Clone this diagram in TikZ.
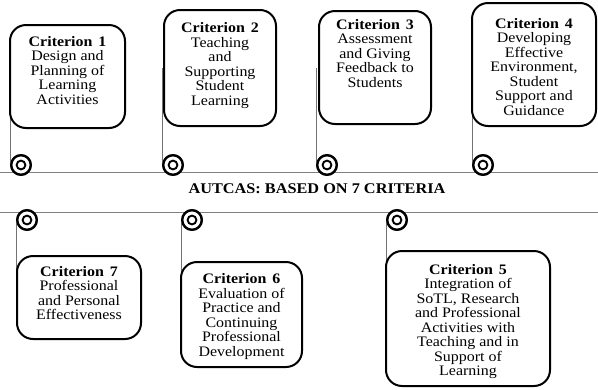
\documentclass[tikz,border=0pt]{standalone}
\usepackage{fontspec}
\setmainfont{Liberation Serif}[FakeStretch=1.1]
\begin{document}
\begin{tikzpicture}[x=1pt,y=-1pt,
  card/.style={draw=black, line width=2pt, rounded corners=16pt, fill=white, inner sep=0pt},
  body/.style={align=center, inner sep=0pt, anchor=north, font=\fontsize{14.5}{14.5}\selectfont},
  rail/.style={draw=black!50, line width=1.2pt},
  stem/.style={draw=black!55, line width=1pt},
  ring/.style={circle, draw=black, line width=2.3pt, fill=white, minimum size=19.5pt, inner sep=0pt},
  hub/.style={draw=black, line width=1.9pt},
  title/.style={font=\bfseries\fontsize{14.8}{14.8}\selectfont, inner sep=0pt, anchor=base}
]
\useasboundingbox (0,0) rectangle (598,389);

% the two timeline rails
\coordinate (tl) at (0,172.5);  \coordinate (tr) at (598,172.5);
\coordinate (bl) at (0,212.7);  \coordinate (br) at (598,212.7);
\draw[rail] (tl) -- (tr);
\draw[rail] (bl) -- (br);

% markers on the rails
\node[ring] (c1) at (21,165) {};
\node[ring] (c2) at (173,165) {};
\node[ring] (c3) at (327,165) {};
\node[ring] (c4) at (483,165) {};
\node[ring] (c7) at (27,220) {};
\node[ring] (c6) at (192,220) {};
\node[ring] (c5) at (397,220) {};

% card centres
\coordinate (p1) at (67.5,76.5);
\coordinate (p2) at (220,68);
\coordinate (p3) at (375,67.5);
\coordinate (p4) at (534,64.5);
\coordinate (p7) at (79,297.5);
\coordinate (p6) at (241.5,314.5);
\coordinate (p5) at (468,318.5);

% stems from each marker to its card (drawn first, cards cover them)
\draw[stem] (c1.west) -- (c1.west |- p1);
\draw[stem] (c2.west) -- (c2.west |- p2);
\draw[stem] (c3.west) -- (c3.west |- p3);
\draw[stem] (c4.west) -- (c4.west |- p4);
\draw[stem] (c7.west) -- (c7.west |- p7);
\draw[stem] (c6.west) -- (c6.west |- p6);
\draw[stem] (c5.west) -- (c5.west |- p5);

\node[card, minimum width=115pt, minimum height=103pt] (b1) at (p1) {};
\node[card, minimum width=112pt, minimum height=116pt] (b2) at (p2) {};
\node[card, minimum width=112pt, minimum height=113pt] (b3) at (p3) {};
\node[card, minimum width=124pt, minimum height=123pt] (b4) at (p4) {};
\node[card, minimum width=124pt, minimum height=83pt] (b7) at (p7) {};
\node[card, minimum width=121pt, minimum height=105pt] (b6) at (p6) {};
\node[card, minimum width=164pt, minimum height=135pt] (b5) at (p5) {};

% redraw markers above the stems
\foreach \c in {c1,c2,c3,c4,c7,c6,c5}{
  \node[ring] at (\c) {};
  \draw[hub] (\c.center) circle[radius=4.4pt];
}

% card texts
\node[body] (t1) at (67.5,36) {\textbf{Criterion\hspace{0.4em}1}\\Design and\\Planning of\\Learning\\Activities};
\node[body] (t2) at (220,22.5) {\textbf{Criterion\hspace{0.4em}2}\\Teaching\\and\\Supporting\\Student\\Learning};
\node[body] (t3) at (375,19) {\textbf{Criterion\hspace{0.4em}3}\\Assessment\\and Giving\\Feedback to\\Students};
\node[body] (t4) at (534,18) {\textbf{Criterion\hspace{0.4em}4}\\Developing\\Effective\\Environment,\\Student\\Support and\\Guidance};
\node[body] (t7) at (79,266) {\textbf{Criterion\hspace{0.4em}7}\\Professional\\and Personal\\Effectiveness};
\node[body] (t6) at (241.5,273.5) {\textbf{Criterion\hspace{0.4em}6}\\Evaluation of\\Practice and\\Continuing\\Professional\\Development};
\node[body] (t5) at (468,264) {\textbf{Criterion\hspace{0.4em}5}\\Integration of\\SoTL, Research\\and Professional\\Activities with\\Teaching and in\\Support of\\Learning};

% caption between the rails
\node[title] (cap) at (317,193) {AUTCAS: BASED ON 7 CRITERIA};
\end{tikzpicture}
\end{document}
